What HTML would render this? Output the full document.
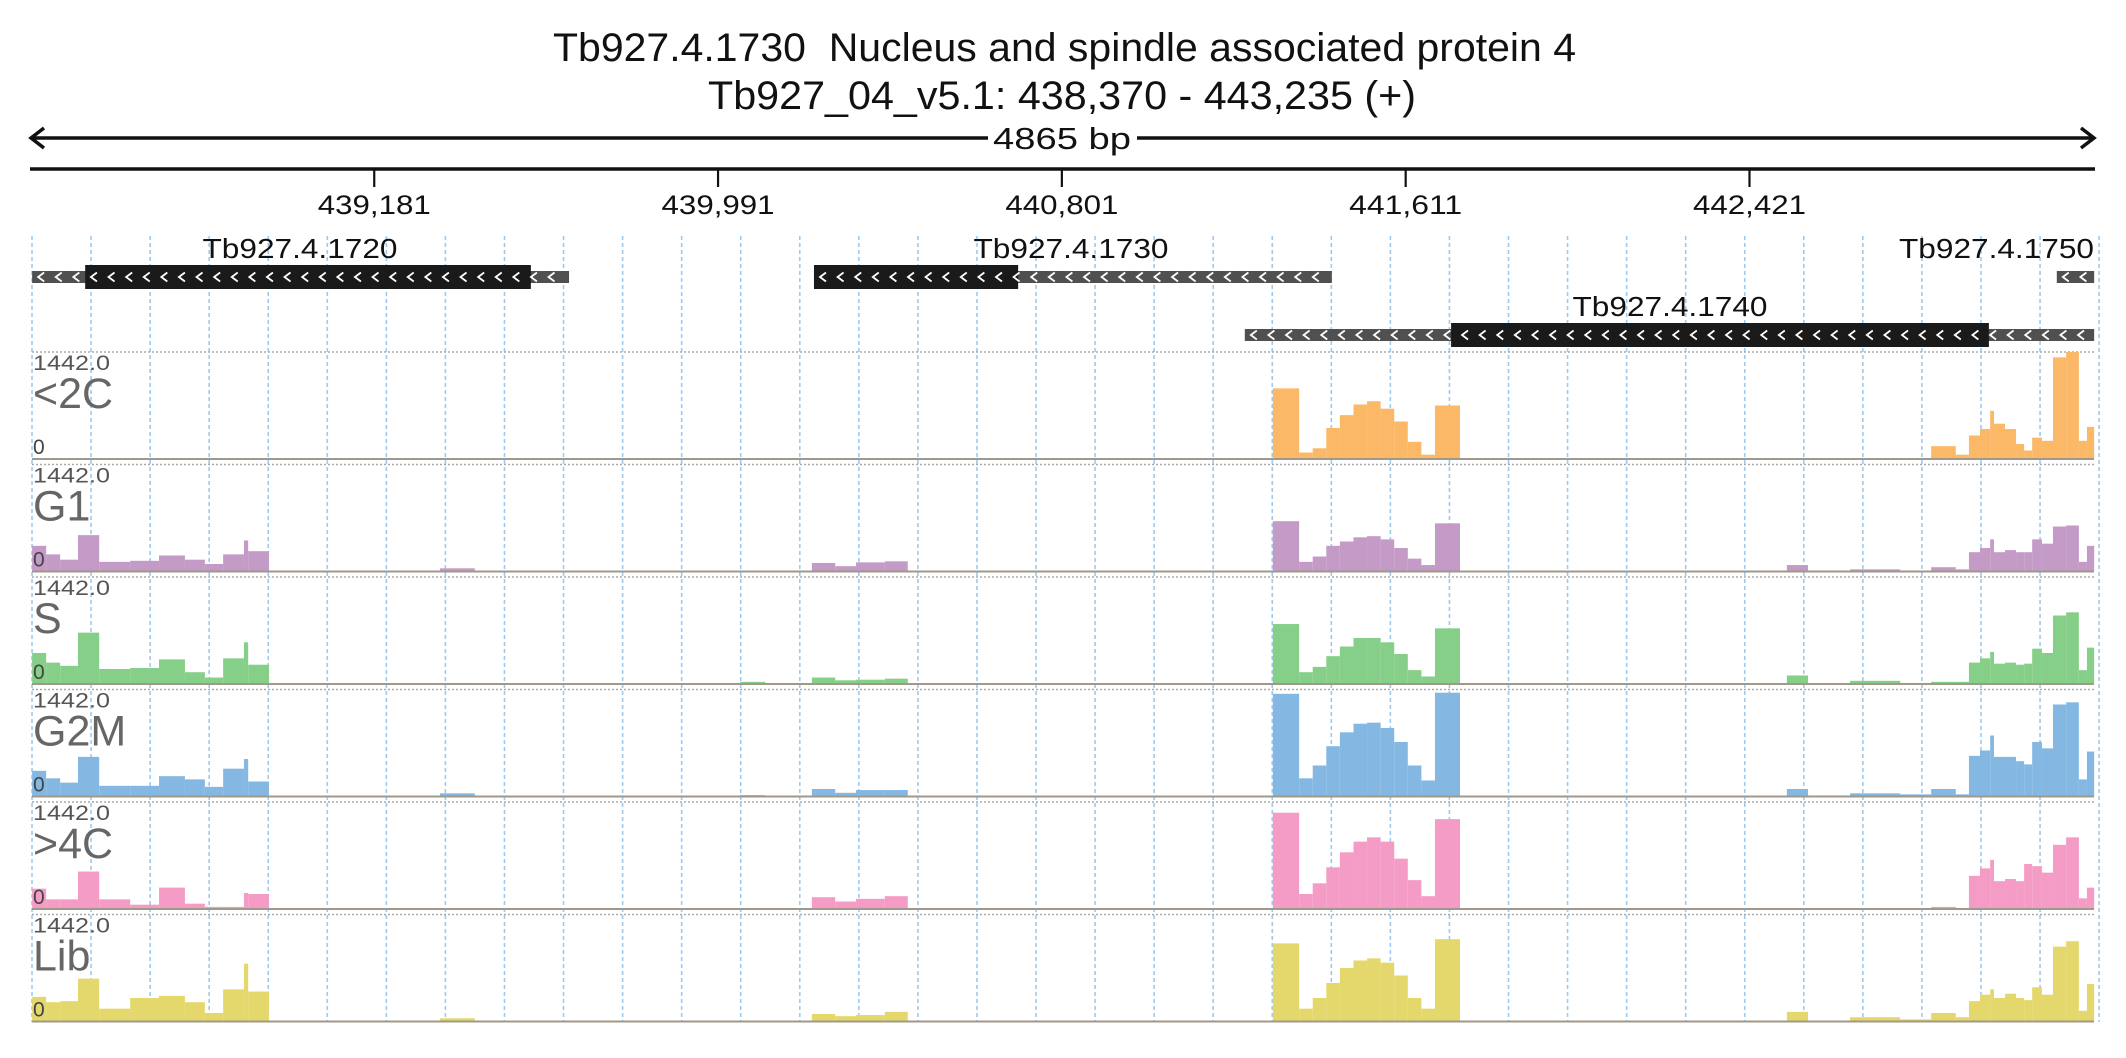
<!DOCTYPE html>
<html><head><meta charset="utf-8"><style>
html,body{margin:0;padding:0;background:#fff;}
svg{display:block;font-family:"Liberation Sans",sans-serif;}
</style></head><body>
<svg id="chart" width="2126" height="1058" viewBox="0 0 2126 1058" xmlns="http://www.w3.org/2000/svg">
<rect width="2126" height="1058" fill="#fff"/>
<text x="553" y="61" font-size="40" textLength="1023" lengthAdjust="spacingAndGlyphs" fill="#111" style="white-space:pre" xml:space="preserve">Tb927.4.1730  Nucleus and spindle associated protein 4</text>
<text x="708" y="109" font-size="40" textLength="708" lengthAdjust="spacingAndGlyphs" fill="#111">Tb927_04_v5.1: 438,370 - 443,235 (+)</text>
<g stroke="#111" stroke-width="3.5" fill="none">
<line x1="31" y1="138" x2="988" y2="138"/><line x1="1137" y1="138" x2="2094" y2="138"/>
<polyline points="44,128 31,138 44,148"/><polyline points="2081,128 2094,138 2081,148"/>
</g>
<text x="993" y="149" font-size="31" textLength="138" lengthAdjust="spacingAndGlyphs" fill="#111">4865 bp</text>
<line x1="30" y1="169" x2="2095" y2="169" stroke="#111" stroke-width="3.5"/>
<g id="ticks"></g>
<g id="grid"></g>
<g id="genes"></g>
<g id="tracks"></g>
</svg>
<script>
const NS="http://www.w3.org/2000/svg";
const regionStart=438370, regionEnd=443235;
const tickValues=[439181,439991,440801,441611,442421];
const tickLabels=["439,181","439,991","440,801","441,611","442,421"];
const trackNames=["<2C","G1","S","G2M",">4C","Lib"];
const trackColors=["#fbb866","#c49ac7","#86cf88","#84b8e2","#f49cc5","#e4d86c"];
const yMax=1442;
const binStart=[438375,438408,438441,438483,438533,438606,438674,438735,438782,438825,438874,438884,439336,440043,440212,440267,440316,440384,441298,441360,441392,441424,441456,441488,441520,441552,441584,441616,441648,441680,442509,442559,442658,442776,442849,442907,442938,442964,442988,442997,443023,443049,443068,443087,443110,443136,443167,443197,443216];
const binEnd=[438408,438441,438483,438533,438606,438674,438735,438782,438825,438874,438884,438933,439418,440102,440267,440316,440384,440438,441360,441392,441424,441456,441488,441520,441552,441584,441616,441648,441680,441739,442559,442658,442776,442849,442907,442938,442964,442988,442997,443023,443049,443068,443087,443110,443136,443167,443197,443216,443233];
const v2C=[0,0,0,0,0,0,0,0,0,0,0,0,7,0,7,7,0,0,952,87,144,418,591,735,779,678,505,231,58,721,0,0,0,0,173,58,317,404,649,476,404,202,115,288,245,1370,1442,245,433];
const vG1=[346,231,159,490,130,144,216,159,101,231,418,274,43,7,115,72,123,137,678,130,202,346,404,461,476,433,317,173,87,649,87,14,29,14,58,29,260,317,433,260,288,260,260,433,375,606,620,130,346];
const vS=[418,288,245,692,202,216,332,159,87,346,562,260,14,29,87,50,58,72,808,159,231,375,505,620,620,562,404,187,101,750,115,0,43,14,29,29,288,346,433,274,288,260,274,476,418,923,966,187,490];
const vG2M=[346,245,187,534,144,144,274,231,130,375,505,202,43,19,101,50,87,87,1384,245,418,678,865,981,995,923,735,418,216,1399,101,14,43,29,101,29,548,620,822,534,534,476,433,735,649,1240,1269,231,606];
const v4C=[274,130,130,505,130,58,288,72,29,29,216,202,7,0,159,101,137,173,1298,202,346,562,764,908,966,908,678,389,173,1211,0,0,0,0,29,0,447,548,663,375,404,375,606,577,490,865,966,144,288];
const vLib=[332,260,274,577,173,317,346,260,115,433,779,404,43,12,101,72,87,130,1053,173,317,519,721,822,851,793,620,317,173,1110,130,0,58,29,115,58,274,361,433,317,375,317,288,461,361,1009,1082,144,505];
const trackValues=[v2C,vG1,vS,vG2M,v4C,vLib];
const geneNames=["Tb927.4.1720","Tb927.4.1730","Tb927.4.1740","Tb927.4.1750"];
const geneStart=[438375,440217,441232,443145];
const geneEnd=[439640,441437,443233,443233];
const cdsStart=[438500,440217,441718,null];
const cdsEnd=[439550,440698,442985,null];
const geneRow=[0,0,1,0];

function X(bp){return 30+(bp-regionStart)/(regionEnd-regionStart)*2065;}
function mk(tag,attrs,parent){const e=document.createElementNS(NS,tag);for(const k in attrs)e.setAttribute(k,attrs[k]);parent.appendChild(e);return e;}

const ticksG=document.getElementById('ticks');
tickValues.forEach((t,i)=>{
  const tk=mk('line',{x1:X(t),x2:X(t),y1:169,y2:187,stroke:'#111','stroke-width':2.2},ticksG);
  
  
  const lb=mk('text',{x:X(t),y:214,'font-size':27,'text-anchor':'middle',fill:'#111',textLength:113,lengthAdjust:'spacingAndGlyphs'},ticksG);
  lb.textContent=tickLabels[i];
  
  
});

const gridG=document.getElementById('grid');
for(let i=0;i<36;i++){
  const gx=32+i*59.06;
  const gl=mk('line',{x1:gx,x2:gx,y1:236,y2:1022,stroke:'#9ccaf0','stroke-width':1.6,'stroke-dasharray':'4 3'},gridG);
  
  
}

const genesG=document.getElementById('genes');
function chevrons(x1,x2,cy,parent){
  for(let x=x1+6;x<x2-6;x+=17.6){
    const c=mk('polyline',{points:`${x+6},${cy-4.5} ${x},${cy} ${x+6},${cy+4.5}`,fill:'none',stroke:'#fff','stroke-width':1.8},parent);
    
    
  }
}
const labelPos=[{x:300,y:258,a:'middle'},{x:1071,y:258,a:'middle'},{x:1670,y:316,a:'middle'},{x:2094,y:258,a:'end'}];
geneNames.forEach((n,i)=>{
  const cy=geneRow[i]===0?277:335;
  const g=mk('g',{},genesG);
  
  
  mk('rect',{x:X(geneStart[i]),y:cy-6,width:X(geneEnd[i])-X(geneStart[i]),height:12,fill:'#505050'},g);
  if(cdsStart[i]!==null){
    mk('rect',{x:X(cdsStart[i]),y:cy-12,width:X(cdsEnd[i])-X(cdsStart[i]),height:24,fill:'#1a1a1a'},g);
  }
  chevrons(X(geneStart[i]),X(geneEnd[i]),cy,g);
  const t=mk('text',{x:labelPos[i].x,y:labelPos[i].y,'font-size':28,'text-anchor':labelPos[i].a,fill:'#111',textLength:195,lengthAdjust:'spacingAndGlyphs'},g);
  t.textContent=n;
  
  
});

const tracksG=document.getElementById('tracks');
trackNames.forEach((name,ti)=>{
  const top=352+ti*112.5, base=459+ti*112.5;
  const g=mk('g',{},tracksG);
  
  
  const tl=mk('line',{x1:32,x2:2094,y1:top,y2:top,stroke:'#aaa','stroke-width':1.5,'stroke-dasharray':'2 2'},g);
  
  
  const vals=trackValues[ti];
  binStart.forEach((s,bi)=>{
    const v=vals[bi]; if(v<=0) return;
    const h=v/yMax*107;
    const r=mk('rect',{x:X(s),y:base-h,width:X(binEnd[bi])-X(s),height:h,fill:trackColors[ti]},g);
    
    
  });
  const bl=mk('line',{x1:32,x2:2094,y1:base,y2:base,stroke:'#a09888','stroke-width':2},g);
  
  
  const mx=mk('text',{x:33,y:top+18,'font-size':21,fill:'#555',textLength:77,lengthAdjust:'spacingAndGlyphs'},g);
  mx.textContent='1442.0';
  
  
  const nm=mk('text',{x:33,y:top+56,'font-size':43,fill:'#666'},g);
  nm.textContent=name;
  
  
  const z=mk('text',{x:33,y:top+102,'font-size':21,fill:'#444'},g);
  z.textContent='0';
  
  
});
</script>
</body></html>
